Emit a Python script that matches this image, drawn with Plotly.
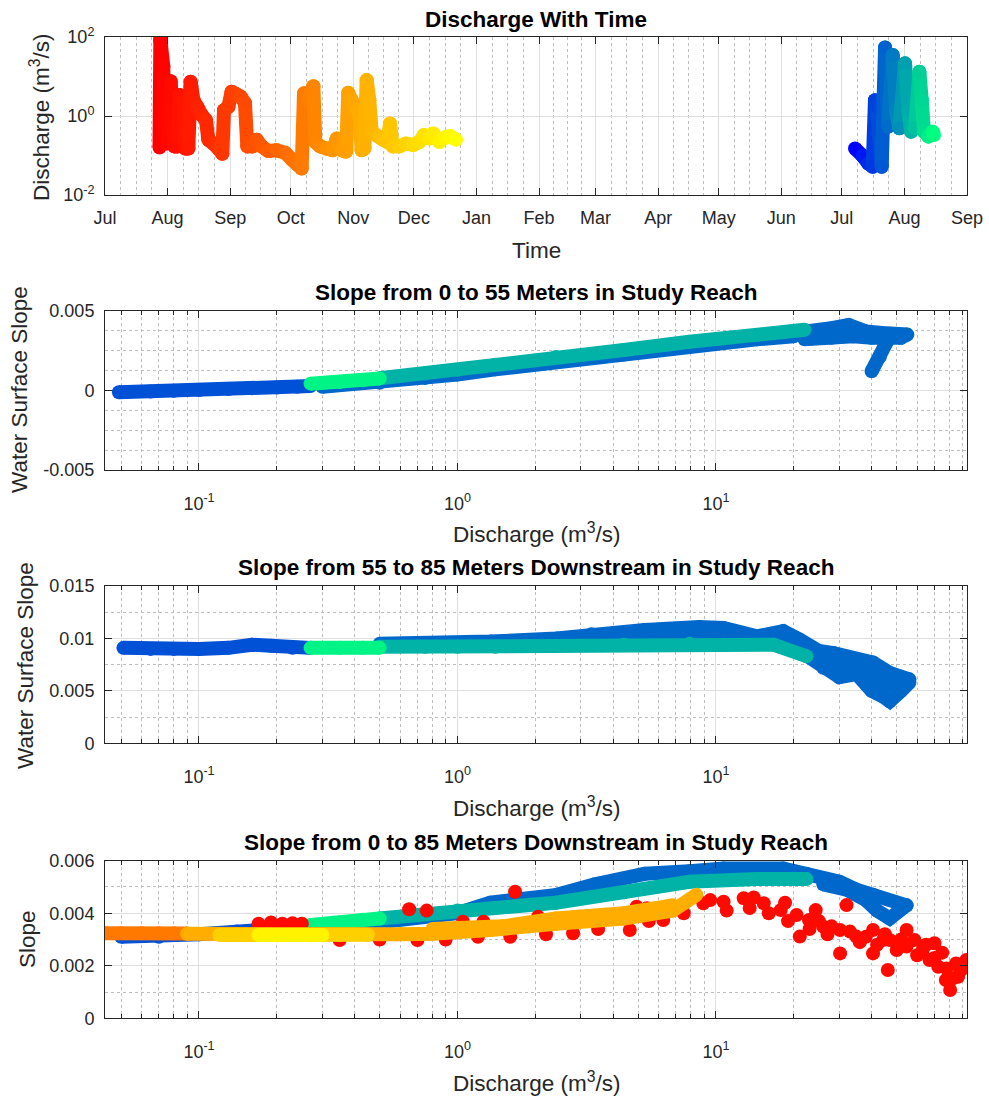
import pandas as pd
import plotly.graph_objects as go

# ---------------------------------------------------------------- data
# Panel 1 - discharge time series (m^3/s), first season
time_2016 = [
    "2016-07-28 00:00", "2016-07-28 10:00", "2016-07-29 21:00", "2016-07-30 10:00",
    "2016-07-31 10:00", "2016-08-01 12:00", "2016-08-02 12:00", "2016-08-03 12:00",
    "2016-08-04 08:00", "2016-08-05 20:00", "2016-08-06 20:00", "2016-08-08 20:00",
    "2016-08-09 19:00", "2016-08-11 07:00", "2016-08-12 10:00", "2016-08-13 19:00",
    "2016-08-15 18:00", "2016-08-17 21:00", "2016-08-20 00:00", "2016-08-21 05:00",
    "2016-08-23 16:00", "2016-08-26 03:00", "2016-08-28 03:00", "2016-08-28 23:00",
    "2016-08-31 03:00", "2016-09-01 17:00", "2016-09-03 21:00", "2016-09-06 05:00",
    "2016-09-08 08:00", "2016-09-09 12:00", "2016-09-12 04:00", "2016-09-14 03:00",
    "2016-09-16 15:00", "2016-09-19 22:00", "2016-09-24 00:00", "2016-09-28 05:00",
    "2016-10-01 11:00", "2016-10-04 10:00", "2016-10-06 10:00", "2016-10-07 14:00",
    "2016-10-09 17:00", "2016-10-12 05:00", "2016-10-13 05:00", "2016-10-15 12:00",
    "2016-10-18 19:00", "2016-10-21 19:00", "2016-10-23 19:00", "2016-10-26 05:00",
    "2016-10-28 10:00", "2016-10-29 12:00", "2016-10-31 05:00", "2016-11-02 08:00",
    "2016-11-04 00:00", "2016-11-05 03:00", "2016-11-06 12:00", "2016-11-07 15:00",
    "2016-11-08 22:00", "2016-11-10 02:00", "2016-11-13 10:00", "2016-11-15 21:00",
    "2016-11-17 21:00", "2016-11-19 05:00", "2016-11-20 12:00", "2016-11-23 19:00",
    "2016-11-27 02:00", "2016-11-30 17:00", "2016-12-03 17:00", "2016-12-06 00:00",
    "2016-12-08 17:00", "2016-12-10 15:00", "2016-12-13 15:00", "2016-12-16 10:00",
    "2016-12-18 22:00", "2016-12-21 22:00",
]
q_2016 = [
    0.16, 88, 18, 0.54,
    0.2, 0.25, 7.6, 1.4,
    0.17, 0.17, 3.4, 2.5,
    0.15, 0.15, 7.4, 2.5,
    1.7, 1.06, 0.79, 0.25,
    0.2, 0.15, 0.11, 1.4,
    1.7, 4.1, 3.6, 3.1,
    2.1, 0.17, 0.17, 0.25,
    0.17, 0.13, 0.135, 0.118,
    0.08, 0.058, 0.047, 3.75,
    2.5, 5.7, 0.22, 0.17,
    0.15, 0.135, 0.27, 0.135,
    0.125, 3.9, 2.5, 1.4,
    1.17, 0.135, 0.15, 8.1,
    2.5, 0.4, 0.3, 0.25,
    0.22, 0.65, 0.17, 0.17,
    0.2, 0.185, 0.22, 0.33,
    0.27, 0.36, 0.22, 0.29,
    0.31, 0.25,
]
# Panel 1 - second season
time_2017 = [
    "2017-07-07 13:00", "2017-07-11 08:00", "2017-07-14 03:00", "2017-07-16 07:00",
    "2017-07-17 10:00", "2017-07-18 07:00", "2017-07-20 18:00", "2017-07-22 10:00",
    "2017-07-24 01:00", "2017-07-26 05:00", "2017-07-27 20:00", "2017-07-29 12:00",
    "2017-08-01 07:00", "2017-08-02 23:00", "2017-08-04 07:00", "2017-08-06 07:00",
    "2017-08-08 10:00", "2017-08-09 14:00", "2017-08-10 17:00", "2017-08-12 22:00",
    "2017-08-15 00:00", "2017-08-15 16:00",
]
q_2017 = [
    0.15, 0.097, 0.063, 0.052,
    2.5, 1.7, 0.052, 54,
    0.54, 35, 1.4, 0.49,
    21.5, 1.4, 0.4, 0.49,
    13.2, 2.5, 0.4, 0.3,
    0.4, 0.33,
]

# representative dates of the periods used for colouring the slope panels
date_lowflow_2017 = "2017-07-20 00:00"
date_storm_2017 = "2017-07-23 12:00"
date_recession_2017 = "2017-08-04 00:00"
date_end_2017 = "2017-08-14 00:00"
date_aug_2016 = "2016-08-02 00:00"
date_oct_2016 = "2016-10-05 00:00"
date_nov_2016 = "2016-11-05 00:00"
date_latenov_2016 = "2016-11-25 00:00"
date_dec_2016 = "2016-12-15 00:00"

# Panel 2 - slope 0-55 m vs discharge
p2_low_q = [0.049, 0.065, 0.08, 0.1, 0.13, 0.16, 0.2, 0.24, 0.27]
p2_low_s = [-0.00012, -0.00008, -0.00003, 0.00002, 0.00008, 0.00013, 0.00018, 0.00023, 0.00027]
p2_edge_q = [0.3, 0.5, 0.75, 1.0, 1.4, 2.4, 4.4, 7.9, 14.4, 20]
p2_edge_s = [0.00022, 0.00048, 0.00078, 0.001, 0.00132, 0.0018, 0.00225, 0.00275, 0.0032, 0.0034]
p2_peak_q = [20, 24, 28, 32.6, 38, 44, 50, 55, 52, 46, 40, 34, 28, 22]
p2_peak_s = [0.0036, 0.0037, 0.0039, 0.0041, 0.0037, 0.0036, 0.0035, 0.0035,
             0.0033, 0.0032, 0.0033, 0.0034, 0.0033, 0.0032]
p2_hook_q = [46, 43, 40]
p2_hook_s = [0.0031, 0.0021, 0.0012]
p2_rec_q = [0.5, 0.75, 1.0, 1.4, 2.4, 4.4, 7.9, 14.4, 22]
p2_rec_s = [0.00076, 0.00105, 0.0013, 0.0016, 0.0021, 0.00253, 0.00305, 0.00347, 0.0038]
p2_end_q = [0.27, 0.35, 0.43, 0.5]
p2_end_s = [0.00042, 0.00052, 0.00063, 0.00075]

# Panel 3 - slope 55-85 m vs discharge
p3_low_q = [0.051, 0.065, 0.08, 0.1, 0.13, 0.16, 0.19, 0.23, 0.27]
p3_low_s = [0.0091, 0.0090, 0.0090, 0.0090, 0.0091, 0.0094, 0.0093, 0.0091, 0.0091]
p3_top_q = [0.5, 0.8, 1.34, 2.42, 3.3, 5.3, 8.6, 10.7, 14.4, 18.2, 21, 25, 28.5, 34.9, 40.5, 47, 56]
p3_top_s = [0.0095, 0.0095, 0.0097, 0.0100, 0.0104, 0.0108, 0.0111, 0.0110, 0.0102, 0.0107,
            0.0099, 0.0088, 0.0086, 0.0080, 0.0077, 0.0067, 0.0061]
p3_mid_q = [2.4, 4.4, 7.9, 10.7, 14.4, 18.2, 22, 26, 30, 34, 38, 42, 46, 50, 54]
p3_mid_s = [0.0097, 0.0100, 0.0103, 0.0102, 0.0099, 0.0100, 0.0090, 0.0080, 0.0074, 0.0072,
            0.0068, 0.0060, 0.0055, 0.0058, 0.0060]
p3_drop_q = [22, 26, 30, 35, 40, 44, 47, 52, 56]
p3_drop_s = [0.0085, 0.0072, 0.0063, 0.0066, 0.0050, 0.0045, 0.0040, 0.0050, 0.0058]
p3_rec_q = [0.5, 0.75, 1.0, 1.4, 2.4, 4.4, 7.9, 10.7, 16.7, 22.4]
p3_rec_s = [0.0092, 0.0092, 0.0092, 0.0092, 0.0093, 0.0094, 0.0095, 0.0094, 0.0094, 0.0083]
p3_end_q = [0.27, 0.35, 0.43, 0.5]
p3_end_s = [0.0091, 0.0091, 0.0091, 0.0091]

# Panel 4 - slope 0-85 m vs discharge (both seasons)
p4_low_q = [0.05, 0.07, 0.1, 0.14, 0.2, 0.27]
p4_low_s = [0.0031, 0.0031, 0.0032, 0.0033, 0.00345, 0.0035]
p4_top_q = [0.3, 0.5, 1.0, 1.34, 2.42, 3.4, 5.3, 7.9, 10.7, 18.2, 22.4, 26, 30, 34.9, 40.5, 54.6]
p4_top_s = [0.0034, 0.0036, 0.0040, 0.0044, 0.0047, 0.0051, 0.0055, 0.0056, 0.0057, 0.0057,
            0.0055, 0.0053, 0.0052, 0.0049, 0.0047, 0.0043]
p4_hook_q = [54.6, 47, 42, 38, 32, 26]
p4_hook_s = [0.0043, 0.0038, 0.0041, 0.0045, 0.0049, 0.0051]
p4_rec_q = [0.5, 0.75, 1.0, 1.4, 2.4, 4.4, 7.9, 14.4, 22.4]
p4_rec_s = [0.0038, 0.0040, 0.0041, 0.0042, 0.0044, 0.0048, 0.0052, 0.0053, 0.0053]
p4_end_q = [0.27, 0.35, 0.43, 0.5]
p4_end_s = [0.00355, 0.00365, 0.00375, 0.0038]
p4_aug_q = [0.17, 0.19, 0.21, 0.23, 0.25, 0.65, 0.76, 1.05, 1.26, 1.67, 2.05, 4.93, 5.4,
            2.8, 4.64, 6.25, 0.35, 0.5, 0.7, 0.9, 1.2, 1.6, 2.2, 3.5, 5.5, 7.5,
            8.93, 10.7, 12.8, 15.3, 17.8, 20.5, 21.1, 22.9, 24.3, 26, 30.2, 30.2, 32, 34.9,
            40.5, 40.5, 44.3, 46.2, 47, 54.6, 54.6, 58.6, 63, 67, 70, 72.4, 77.5, 80.5,
            84.8, 86.4, 93, 11, 13.5, 16, 19, 23, 27, 36, 42, 50, 60, 70, 78, 88,
            25, 28, 33, 38, 45, 52, 65, 75, 82, 90, 18.5, 14, 9.5]
p4_aug_s = [0.0036, 0.00365, 0.0036, 0.00362, 0.0036, 0.00415, 0.0041, 0.00368, 0.00368, 0.00482,
            0.00387, 0.00425, 0.00419, 0.00324, 0.00336, 0.00374, 0.00298, 0.003, 0.00298, 0.003,
            0.0031, 0.0031, 0.0032, 0.0034, 0.0037, 0.004,
            0.00438, 0.00444, 0.00457, 0.00438, 0.00412, 0.00393, 0.00311, 0.00374, 0.00412, 0.00349,
            0.00336, 0.00247, 0.00431, 0.00311, 0.00336, 0.00247, 0.00298, 0.00184, 0.00298, 0.00336,
            0.00273, 0.00298, 0.0026, 0.00222, 0.00286, 0.00196, 0.00146, 0.00108, 0.00209, 0.00158,
            0.00222, 0.0041, 0.0042, 0.0040, 0.0037, 0.0034, 0.0032, 0.0029, 0.0028, 0.0026,
            0.0024, 0.0023, 0.0019, 0.0018, 0.0037, 0.0035, 0.0033, 0.0031, 0.0032, 0.003,
            0.0028, 0.0025, 0.0015, 0.0019, 0.0044, 0.0046, 0.0045]
p4_oct_q = [0.0433, 0.05, 0.06, 0.07, 0.08, 0.09]
p4_oct_s = [0.00324, 0.00324, 0.00324, 0.00324, 0.00324, 0.00323]
p4_nov_q = [0.09, 0.12, 0.15, 0.2, 0.3, 0.45, 0.6, 0.8, 1.0, 1.34, 2.4, 4.4, 6.8, 8.4]
p4_nov_s = [0.00322, 0.0032, 0.00318, 0.00316, 0.00316, 0.00318, 0.0032, 0.00322, 0.00326,
            0.00336, 0.0036, 0.0038, 0.0041, 0.0047]
p4_novup_q = [0.8, 1.0, 1.5, 2.4, 4.4, 6.8]
p4_novup_s = [0.0034, 0.00345, 0.0035, 0.0038, 0.0040, 0.0043]
p4_latenov_q = [0.12, 0.15, 0.2, 0.27, 0.35, 0.45]
p4_latenov_s = [0.00317, 0.00317, 0.00316, 0.00316, 0.00317, 0.00318]
p4_dec_q = [0.17, 0.2, 0.25, 0.3]
p4_dec_s = [0.00317, 0.00317, 0.00317, 0.00317]

# ---------------------------------------------------------------- style
FONT = "Liberation Sans, Arial, Helvetica, sans-serif"
AX = "rgb(38,38,38)"
GRID = "rgb(223,223,223)"
MINOR = "rgb(190,190,190)"
MS = 14
LW = 14
W, H = 989, 1097
XD = [105 / W, 967 / W]
BOX = [(37, 195), (310.7, 470), (586, 743.3), (860.7, 1018.3)]


def ydom(b):
    return [1 - b[1] / H, 1 - b[0] / H]


def autumn(t):
    return f"rgb(255,{round(255 * t)},0)"


def winter(t):
    return f"rgb(0,{round(255 * t)},{round(255 * (1 - 0.5 * t))})"


def frac(date, times):
    t0, t1 = pd.Timestamp(times[0]), pd.Timestamp(times[-1])
    f = (pd.Timestamp(date) - t0) / (t1 - t0)
    return min(max(f, 0.0), 1.0)


fig = go.Figure()


def add_series(times, q, cmap):
    fr = [frac(t, times) for t in times]
    for i in range(len(times) - 1):
        fig.add_trace(go.Scatter(
            x=[times[i], times[i + 1]], y=[q[i], q[i + 1]], mode="lines+markers",
            line=dict(color=cmap((fr[i] + fr[i + 1]) / 2), width=LW),
            marker=dict(color=[cmap(fr[i]), cmap(fr[i + 1])], size=MS, line=dict(width=0)),
            xaxis="x", yaxis="y", showlegend=False, hoverinfo="skip"))


add_series(time_2016, q_2016, autumn)
add_series(time_2017, q_2017, winter)


def add_group(q, s, date, season, ax, lines=True):
    if season == 2017:
        col = winter(frac(date, time_2017))
    else:
        col = autumn(frac(date, time_2016))
    fig.add_trace(go.Scatter(
        x=q, y=s, mode="lines+markers" if lines else "markers",
        line=dict(color=col, width=LW), marker=dict(color=col, size=MS, line=dict(width=0)),
        xaxis=f"x{ax}", yaxis=f"y{ax}", showlegend=False, hoverinfo="skip"))


# panel 2
add_group(p2_low_q, p2_low_s, date_lowflow_2017, 2017, 2)
add_group(p2_edge_q, p2_edge_s, date_storm_2017, 2017, 2)
add_group(p2_peak_q, p2_peak_s, date_storm_2017, 2017, 2)
add_group(p2_hook_q, p2_hook_s, date_storm_2017, 2017, 2)
add_group(p2_rec_q, p2_rec_s, date_recession_2017, 2017, 2)
add_group(p2_end_q, p2_end_s, date_end_2017, 2017, 2)
# panel 3
add_group(p3_low_q, p3_low_s, date_lowflow_2017, 2017, 3)
add_group(p3_top_q, p3_top_s, date_storm_2017, 2017, 3)
add_group(p3_mid_q, p3_mid_s, date_storm_2017, 2017, 3)
add_group(p3_drop_q, p3_drop_s, date_storm_2017, 2017, 3)
add_group(p3_rec_q, p3_rec_s, date_recession_2017, 2017, 3)
add_group(p3_end_q, p3_end_s, date_end_2017, 2017, 3)
# panel 4
add_group(p4_low_q, p4_low_s, date_lowflow_2017, 2017, 4)
add_group(p4_top_q, p4_top_s, date_storm_2017, 2017, 4)
add_group(p4_hook_q, p4_hook_s, date_storm_2017, 2017, 4)
add_group(p4_rec_q, p4_rec_s, date_recession_2017, 2017, 4)
add_group(p4_end_q, p4_end_s, date_end_2017, 2017, 4)
add_group(p4_aug_q, p4_aug_s, date_aug_2016, 2016, 4, lines=False)
add_group(p4_oct_q, p4_oct_s, date_oct_2016, 2016, 4)
add_group(p4_nov_q, p4_nov_s, date_nov_2016, 2016, 4)
add_group(p4_novup_q, p4_novup_s, date_nov_2016, 2016, 4)
add_group(p4_latenov_q, p4_latenov_s, date_latenov_2016, 2016, 4)
add_group(p4_dec_q, p4_dec_s, date_dec_2016, 2016, 4)

# ---------------------------------------------------------------- axes
common = dict(showline=True, linecolor=AX, linewidth=1, mirror="ticks", ticks="inside",
              ticklen=7, tickcolor=AX, tickwidth=1, automargin=False,
              tickfont=dict(family=FONT, size=18, color=AX),
              showgrid=True, gridcolor=GRID, gridwidth=1, zeroline=False)

# quarter-month minor grid for the time axis
minor_dates = []
for m in pd.date_range("2016-07-01", "2017-08-01", freq="MS"):
    n = m.days_in_month
    for k in (1, 2, 3):
        minor_dates.append((m + pd.Timedelta(days=n * k / 4)).strftime("%Y-%m-%d %H:%M"))

minor_log = [m * 10 ** e for e in (-2, -1, 0, 1) for m in range(2, 10)]
LOGMIN, LOGMAX = -1.3636, 1.971

layout_axes = {}
layout_axes["xaxis"] = dict(
    type="date", domain=XD, anchor="y", range=["2016-07-01", "2017-09-01"],
    tickmode="linear", tick0="2016-07-01", dtick="M1", tickformat="%b",
    ticklabelstandoff=6,
    minor=dict(tickmode="array", tickvals=minor_dates, ticks="", showgrid=True,
               gridcolor=MINOR, griddash="dot", gridwidth=1),
    **common)
layout_axes["yaxis"] = dict(
    type="log", domain=ydom(BOX[0]), anchor="x", range=[-2, 2],
    tickmode="array", tickvals=[0.01, 1, 100],
    ticktext=["10<sup>-2</sup>", "10<sup>0</sup>", "10<sup>2</sup>"],
    ticklabelstandoff=6, **common)

ylims = {2: ([-0.005, 0.005], [-0.005, 0, 0.005], ["-0.005", "0", "0.005"], 0.00125),
         3: ([0, 0.015], [0, 0.005, 0.01, 0.015], ["0", "0.005", "0.01", "0.015"], 0.0025),
         4: ([0, 0.006], [0, 0.002, 0.004, 0.006], ["0", "0.002", "0.004", "0.006"], 0.001)}
for k in (2, 3, 4):
    rng, tv, tt, mdt = ylims[k]
    layout_axes[f"xaxis{k}"] = dict(
        type="log", domain=XD, anchor=f"y{k}", range=[LOGMIN, LOGMAX],
        tickmode="array", tickvals=[0.1, 1, 10],
        ticktext=["10<sup>-1</sup>", "10<sup>0</sup>", "10<sup>1</sup>"],
        ticklabelstandoff=17,
        minor=dict(tickmode="array", tickvals=minor_log, ticks="inside", ticklen=4,
                   tickcolor=AX, showgrid=True, gridcolor=MINOR, griddash="dot", gridwidth=1),
        **common)
    layout_axes[f"yaxis{k}"] = dict(
        domain=ydom(BOX[k - 1]), anchor=f"x{k}", range=rng,
        tickmode="array", tickvals=tv, ticktext=tt, ticklabelstandoff=6,
        minor=dict(dtick=mdt, tick0=0, ticks="", showgrid=True, gridcolor=MINOR,
                   griddash="dot", gridwidth=1),
        **common)

# ---------------------------------------------------------------- text
def ann(text, x, y, size, angle=0, bold=False, color=AX):
    return dict(text=f"<b>{text}</b>" if bold else text, x=x / W, y=1 - y / H,
                xref="paper", yref="paper", xanchor="center", yanchor="middle",
                showarrow=False, textangle=angle,
                font=dict(family=FONT, size=size, color=color))


DQ = "Discharge (m<sup>3</sup>/s)"
annotations = [
    ann("Discharge With Time", 536, 19, 22.5, bold=True, color="black"),
    ann("Slope from 0 to 55 Meters in Study Reach", 536, 292, 22.5, bold=True, color="black"),
    ann("Slope from 55 to 85 Meters Downstream in Study Reach", 536, 567, 22.5, bold=True, color="black"),
    ann("Slope from 0 to 85 Meters Downstream in Study Reach", 536, 842, 22.5, bold=True, color="black"),
    ann("Time", 536, 251, 22.5),
    ann(DQ, 537, 533, 22.5),
    ann(DQ, 537, 807, 22.5),
    ann(DQ, 537, 1082, 22.5),
    ann(DQ, 40, 117, 22.5, angle=-90),
    ann("Water Surface Slope", 20, 390, 22.5, angle=-90),
    ann("Water Surface Slope", 25, 666, 22.5, angle=-90),
    ann("Slope", 27, 939, 22.5, angle=-90),
]

fig.update_layout(
    width=W, height=H, margin=dict(l=0, r=0, t=0, b=0),
    paper_bgcolor="white", plot_bgcolor="white", showlegend=False,
    font=dict(family=FONT, color=AX), annotations=annotations, **layout_axes)

fig.write_html("out.html")
